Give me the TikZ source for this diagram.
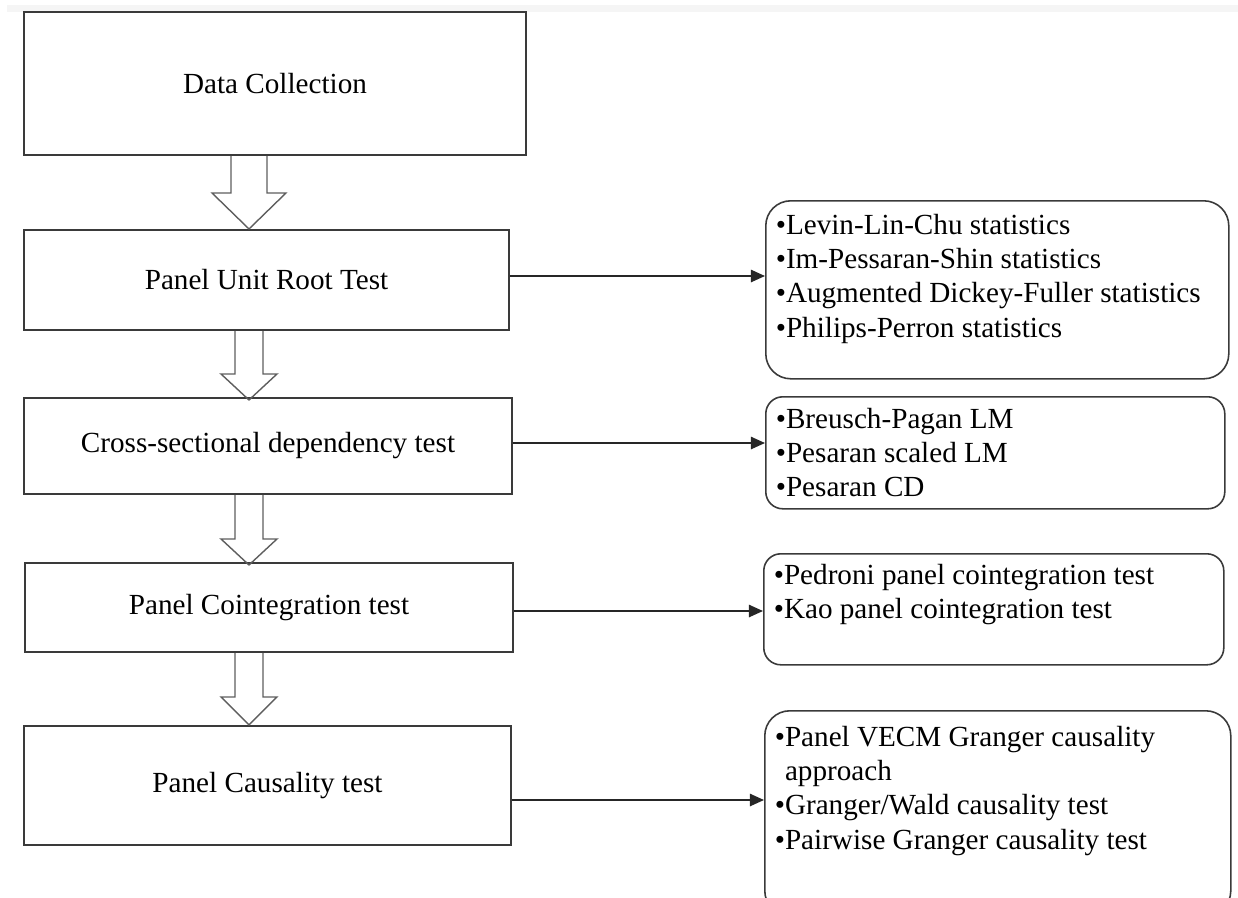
\documentclass[tikz,border=0pt]{standalone}
\usepackage{fontspec}
\setmainfont{Liberation Serif}
\usepackage{xcolor}
\usetikzlibrary{positioning,arrows.meta,calc}

\newlength\pxu
\setlength\pxu{0.02cm}
\newcommand{\testlist}[4]{%
  \parbox[c][#2\pxu][t]{#1\pxu}{\vspace*{#3\pxu}\raggedright #4}}

\definecolor{boxline}{HTML}{3A3A3A}
\definecolor{arrowgray}{HTML}{5E5E5E}

\begin{document}
\begin{tikzpicture}[x=0.02cm, y=-0.02cm, >=Latex,
  stepbox/.style={draw=boxline, line width=1.1pt, inner sep=0pt,
    font=\fontsize{16.6}{19.6}\selectfont},
  listbox/.style={draw=boxline, line width=0.9pt, anchor=north west,
    inner xsep=10\pxu, inner ysep=0pt, font=\fontsize{16.6}{19.6}\selectfont},
  link/.style={draw=black!85, line width=0.95pt,
    -{Triangle[length=8pt,width=7pt]}},
  pics/fatarrow/.style n args={4}{code={
    \draw[arrowgray, line width=0.8pt]
      (-#1,0) -- (-#1,#3) -- (-#2,#3) -- (0,#4) -- (#2,#3) -- (#1,#3) -- (#1,0);
  }}]

\clip (0,0) rectangle (1238,897);
\fill[black!4] (7,5) rectangle (1238,12);

% ===========================
% LEFT: steps
% ===========================
\node[stepbox, minimum width=502\pxu, minimum height=143\pxu] (dc) at (275,83.5) {Data Collection};
\node[stepbox, minimum width=485\pxu, minimum height=100\pxu] (ur) at (266.5,280) {Panel Unit Root Test};
\node[stepbox, minimum width=488\pxu, minimum height=96\pxu] (csd) at (268,446) {Cross-sectional dependency test};
\node[stepbox, minimum width=488\pxu, minimum height=89\pxu] (coint) at (269,607.5) {Panel Cointegration test};
\node[stepbox, minimum width=487\pxu, minimum height=119\pxu] (caus) at (267.5,785.5) {Panel Causality test};

% Hollow arrows between the steps
\coordinate (axis) at (249,0);
\pic at (axis |- dc.south) {fatarrow={18}{37}{37}{73}};
\pic at (axis |- ur.south) {fatarrow={14}{28}{43}{69}};
\pic at (axis |- csd.south) {fatarrow={14}{28}{44}{70}};
\pic at (axis |- coint.south) {fatarrow={14}{28}{44}{72}};

% ===========================
% RIGHT: tests used
% ===========================
\node[listbox, rounded corners=25\pxu] (urlist) at (765,200)
  {\testlist{443}{178}{13}{•Levin-Lin-Chu statistics\\•Im-Pessaran-Shin statistics\\•Augmented Dickey-Fuller statistics\\•Philips-Perron statistics}};
\node[listbox, rounded corners=17\pxu] (csdlist) at (765,396)
  {\testlist{439}{112}{11}{•Breusch-Pagan LM\\•Pesaran scaled LM\\•Pesaran CD}};
\node[listbox, rounded corners=17\pxu] (cointlist) at (763,553)
  {\testlist{440}{111}{10}{•Pedroni panel cointegration test\\•Kao panel cointegration test}};
\node[listbox, rounded corners=25\pxu] (causlist) at (764,710)
  {\testlist{446}{205}{15}{•Panel VECM Granger causality\\\hphantom{•}approach\\•Granger/Wald causality test\\•Pairwise Granger causality test}};

% Links from steps to lists
\coordinate (c1) at ($(ur.east)+(0,-4)$);
\coordinate (c2) at ($(csd.east)+(0,-3)$);
\coordinate (c3) at ($(coint.east)+(0,3.5)$);
\coordinate (c4) at ($(caus.east)+(0,14.5)$);
\draw[link] (c1) -- (c1 -| urlist.west);
\draw[link] (c2) -- (c2 -| csdlist.west);
\draw[link] (c3) -- (c3 -| cointlist.west);
\draw[link] (c4) -- (c4 -| causlist.west);

\end{tikzpicture}
\end{document}
